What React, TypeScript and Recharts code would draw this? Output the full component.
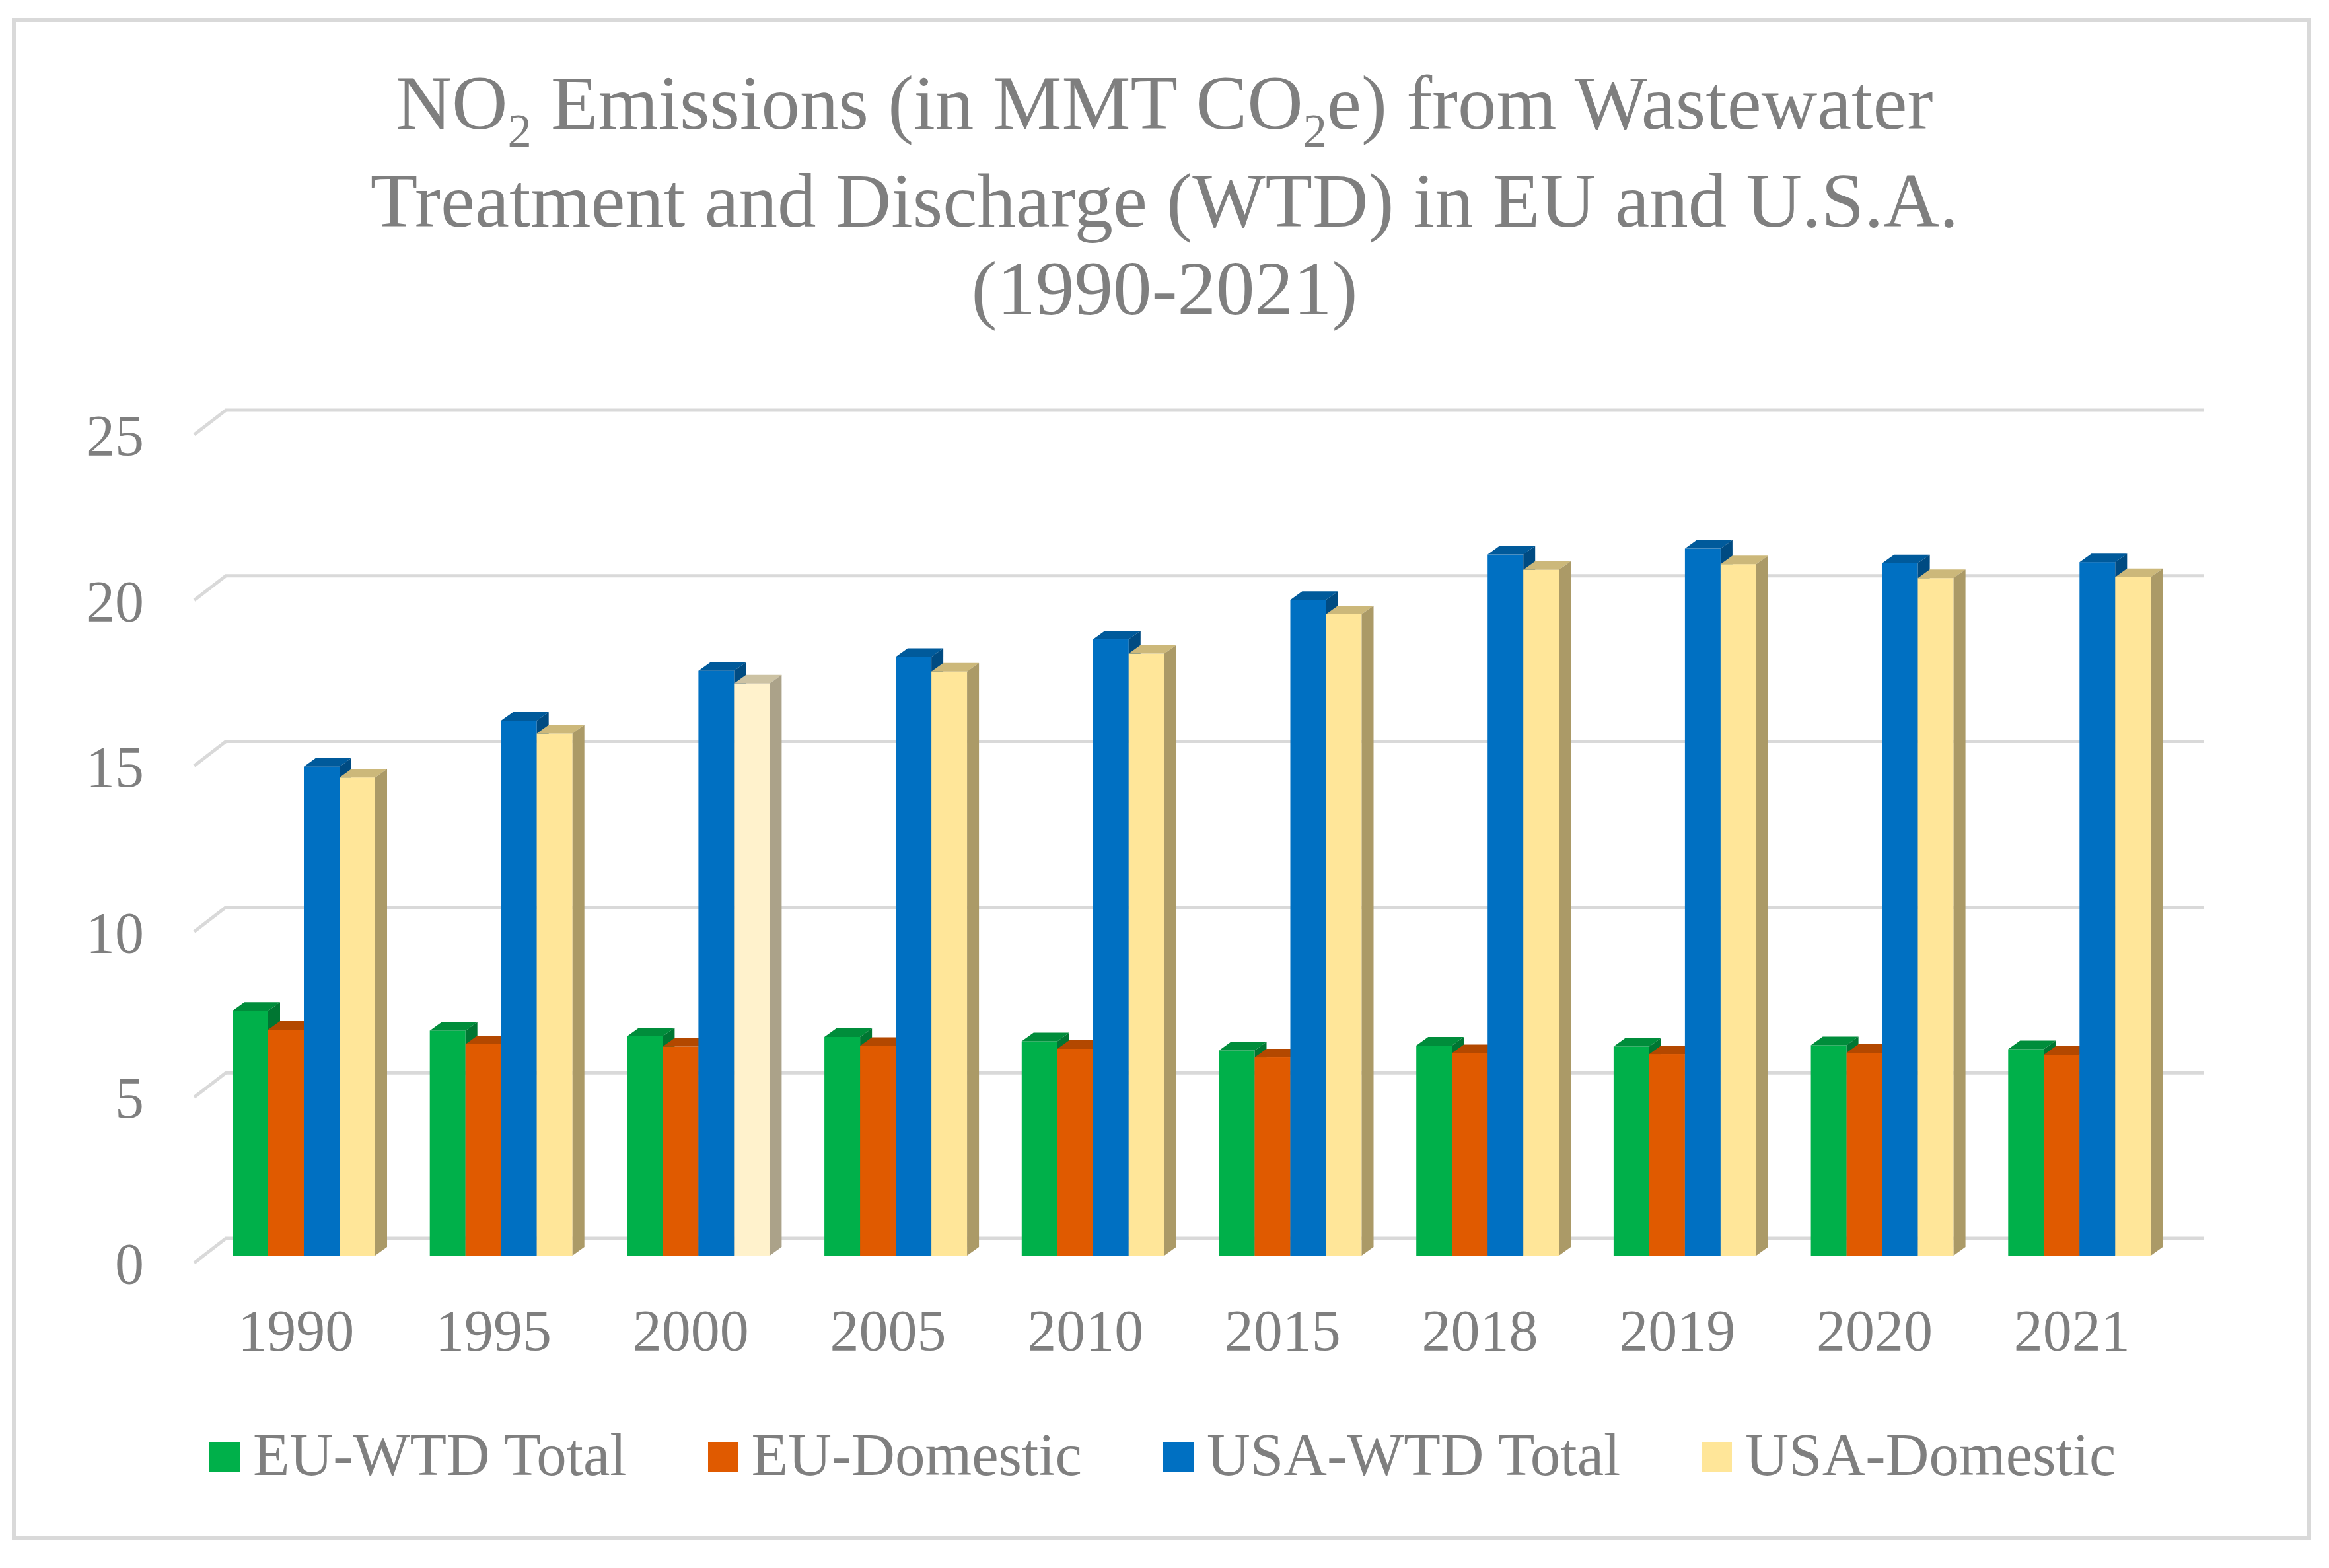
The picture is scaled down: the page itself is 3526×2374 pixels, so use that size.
import React from 'react';
import { BarChart, Bar, XAxis, YAxis, CartesianGrid, Cell } from 'recharts';

const categories = ['1990', '1995', '2000', '2005', '2010', '2015', '2018', '2019', '2020', '2021'];
const euTotal = [7.39, 6.79, 6.62, 6.6, 6.47, 6.19, 6.34, 6.31, 6.35, 6.23];
const euDomestic = [6.82, 6.38, 6.31, 6.33, 6.24, 5.98, 6.11, 6.08, 6.12, 6.06];
const usaTotal = [14.76, 16.15, 17.65, 18.07, 18.6, 19.79, 21.16, 21.34, 20.9, 20.93];
const usaDomestic = [14.43, 15.76, 17.27, 17.63, 18.17, 19.36, 20.7, 20.87, 20.45, 20.48];
const yTicks = [0, 5, 10, 15, 20, 25];

const seriesNames = ['EU-WTD Total', 'EU-Domestic', 'USA-WTD Total', 'USA-Domestic'];
const seriesKeys = ['euTotal', 'euDomestic', 'usaTotal', 'usaDomestic'];
const seriesColors = ['#00B04A', '#E05A00', '#0070C2', '#FFE699'];
const lightYear = '2000';
const lightColor = '#FFF2CC';

const data = categories.map((year, i) => ({
  year,
  euTotal: euTotal[i],
  euDomestic: euDomestic[i],
  usaTotal: usaTotal[i],
  usaDomestic: usaDomestic[i],
}));

const FONT = '"Liberation Serif", "Times New Roman", serif';
const TEXT = '#7f7f7f';
const GRID = '#d9d9d9';
const DX = 18;
const DY = 13;

function shade(hex: string, f: number) {
  const h = hex.replace('#', '');
  const r = Math.round(parseInt(h.slice(0, 2), 16) * f);
  const g = Math.round(parseInt(h.slice(2, 4), 16) * f);
  const b = Math.round(parseInt(h.slice(4, 6), 16) * f);
  return `rgb(${r},${g},${b})`;
}

function Bar3D(props: any) {
  const { x, y, width, height, fill } = props;
  if (x == null || y == null || !width || height == null) return <g />;
  const top = shade(fill, 0.8);
  const side = shade(fill, 0.67);
  return (
    <g>
      <rect x={x} y={y} width={width} height={height} fill={fill} />
      <polygon
        points={`${x},${y} ${x + DX},${y - DY} ${x + width + DX},${y - DY} ${x + width},${y}`}
        fill={top}
      />
      <polygon
        points={`${x + width},${y} ${x + width + DX},${y - DY} ${x + width + DX},${y + height - DY} ${x + width},${y + height}`}
        fill={side}
      />
    </g>
  );
}

function gridLine(props: any) {
  const { x1, x2, y1, index } = props;
  return (
    <polyline
      key={`grid-${index}-${y1}`}
      points={`${x1 - 17},${y1 + 11} ${x1 + 31},${y1 - 26} ${x2 + 38},${y1 - 26}`}
      fill="none"
      stroke={GRID}
      strokeWidth={5}
    />
  );
}

function YTick(props: any) {
  const { x, y, payload } = props;
  return (
    <text x={x} y={y + 11} dy="0.355em" textAnchor="end" fill={TEXT} fontSize={88} fontFamily={FONT}>
      {payload.value}
    </text>
  );
}

function XTick(props: any) {
  const { x, y, payload } = props;
  return (
    <text x={x - 12} y={y} dy="0.71em" textAnchor="middle" fill={TEXT} fontSize={88} fontFamily={FONT}>
      {payload.value}
    </text>
  );
}

const subStyle: React.CSSProperties = { fontSize: '0.62em', position: 'relative', top: 27 };

export default function App() {
  return (
    <div style={{ position: 'relative', width: 3510, height: 2358, background: '#ffffff' }}>
      <div
        style={{
          position: 'absolute',
          left: 10,
          top: 20,
          width: 3480,
          height: 2303,
          border: `6px solid ${GRID}`,
          boxSizing: 'border-box',
        }}
      />
      <div
        style={{
          position: 'absolute',
          left: 0,
          top: 81,
          width: 3510,
          textAlign: 'center',
          fontFamily: FONT,
          fontSize: 117,
          lineHeight: '133px',
          color: TEXT,
          whiteSpace: 'nowrap',
        }}
      >
        <div>
          NO<span style={subStyle}>2</span> Emissions (in MMT CO<span style={subStyle}>2</span>e) from Wastewater
        </div>
        <div>Treatment and Discharge (WTD) in EU and U.S.A.</div>
        <div>(1990-2021)</div>
      </div>
      <div style={{ position: 'absolute', left: 0, top: 0 }}>
        <BarChart
          width={3510}
          height={2358}
          data={data}
          margin={{ top: 639, right: 220, bottom: 365, left: 203 }}
          barCategoryGap={41}
          barGap={0}
        >
          <CartesianGrid vertical={false} horizontal={gridLine} />
          <XAxis
            dataKey="year"
            axisLine={false}
            tickLine={false}
            tickSize={0}
            tickMargin={81}
            height={100}
            interval={0}
            tick={XTick}
          />
          <YAxis
            domain={[0, 25]}
            ticks={yTicks}
            axisLine={false}
            tickLine={false}
            tickSize={0}
            tickMargin={93}
            width={100}
            interval={0}
            tick={YTick}
          />
          {seriesKeys.map((k, si) => (
            <Bar
              key={k}
              dataKey={k}
              name={seriesNames[si]}
              fill={seriesColors[si]}
              shape={Bar3D}
              isAnimationActive={false}
            >
              {si === 3
                ? data.map((d, i) => (
                    <Cell key={`c-${i}`} fill={d.year === lightYear ? lightColor : seriesColors[si]} />
                  ))
                : null}
            </Bar>
          ))}
        </BarChart>
      </div>
      <div
        style={{
          position: 'absolute',
          left: 309,
          top: 2150,
          display: 'flex',
          alignItems: 'flex-start',
          fontFamily: FONT,
          fontSize: 91,
          lineHeight: '89px',
          color: TEXT,
          whiteSpace: 'nowrap',
        }}
      >
        {seriesNames.map((n, i) => (
          <div key={n} style={{ display: 'flex', alignItems: 'flex-start', marginRight: i < 3 ? 123 : 0 }}>
            <div style={{ width: 46, height: 45, marginTop: 25, marginRight: 20, background: seriesColors[i] }} />
            <span>{n}</span>
          </div>
        ))}
      </div>
    </div>
  );
}
